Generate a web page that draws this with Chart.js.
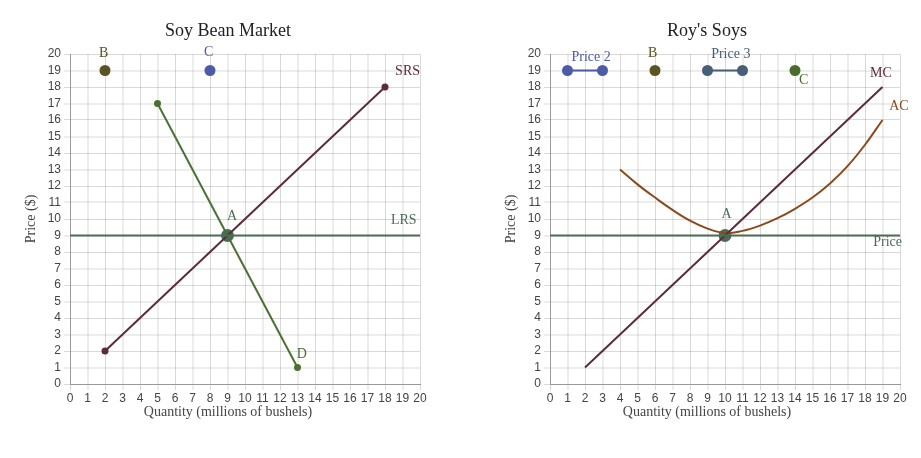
<!DOCTYPE html>
<html>
<head>
<meta charset="utf-8">
<script src="https://cdn.jsdelivr.net/npm/chart.js@4.4.1/dist/chart.umd.min.js"></script>
<style>
  html, body { margin: 0; padding: 0; background: #ffffff; }
  #wrap { position: relative; width: 921px; height: 458px; }
  #leftBox { position: absolute; left: 0; top: 0; width: 460px; height: 458px; }
  #rightBox { position: absolute; left: 460px; top: 0; width: 461px; height: 458px; }
</style>
</head>
<body>
<div id="wrap">
  <div id="leftBox"><canvas id="left" width="460" height="458"></canvas></div>
  <div id="rightBox"><canvas id="right" width="461" height="458"></canvas></div>
</div>
<script>
// ---------------- Data ----------------
const quantityTicks = [0,1,2,3,4,5,6,7,8,9,10,11,12,13,14,15,16,17,18,19,20];
const priceTicks = [0,1,2,3,4,5,6,7,8,9,10,11,12,13,14,15,16,17,18,19,20];

// Soy Bean Market
const srsQ = [2, 18];
const srsP = [2, 18];
const demandQ = [5, 13];
const demandP = [17, 1];
const lrsQ = [0, 20];
const lrsP = [9, 9];
const marketPointNames = ['A', 'B', 'C'];
const marketPointQ = [9, 2, 8];
const marketPointP = [9, 19, 19];

// Roy's Soys
const mcQ = [2, 19];
const mcP = [1, 18];
const acQ = [4, 5, 6, 7, 8, 9, 10, 11, 12, 13, 14, 15, 16, 17, 18, 19];
const acP = [13, 12.1, 11.3, 10.55, 9.9, 9.42, 9.15, 9.28, 9.6, 10.05, 10.62, 11.3, 12.15, 13.2, 14.5, 16];
const priceLineQ = [0, 20];
const priceLineP = [9, 9];
const price2Q = [1, 3];
const price2P = [19, 19];
const price3Q = [9, 11];
const price3P = [19, 19];
const firmPointNames = ['A', 'B', 'C'];
const firmPointQ = [10, 6, 14];
const firmPointP = [9, 19, 19];

// ---------------- Helpers ----------------
function pts(xs, ys) { return xs.map((x, i) => ({ x: x, y: ys[i] })); }

const SERIF = '"Liberation Serif", "Times New Roman", serif';
const SANS = '"Liberation Sans", Arial, sans-serif';

const textPlugin = {
  id: 'texts',
  afterDatasetsDraw(chart, args, opts) {
    const ctx = chart.ctx;
    const xs = chart.scales.x, ys = chart.scales.y;
    const area = chart.chartArea;
    ctx.save();
    ctx.textAlign = 'center';
    ctx.textBaseline = 'middle';
    ctx.fillStyle = '#222222';
    ctx.font = '18px ' + SERIF;
    ctx.fillText(opts.title, opts.titleX, 31);
    ctx.fillStyle = '#444444';
    ctx.font = '14px ' + SERIF;
    ctx.fillText(opts.xTitle, opts.titleX, 412);
    ctx.save();
    ctx.translate(area.left - 39, (area.top + area.bottom) / 2);
    ctx.rotate(-Math.PI / 2);
    ctx.fillText(opts.yTitle, 0, 0);
    ctx.restore();
    ctx.font = '14px ' + SERIF;
    for (const t of opts.labels) {
      ctx.fillStyle = t.color;
      ctx.fillText(t.text, xs.getPixelForValue(t.q), ys.getPixelForValue(t.p));
    }
    ctx.restore();
  }
};

function gridColor(c) {
  return (c.tick && c.tick.value % 2) ? 'rgba(0,0,0,0.07)' : 'rgba(0,0,0,0.15)';
}
function gridWidth(c) {
  return (c.tick && c.tick.value % 2) ? 2 : 1;
}

function makeScales(yWidth) {
  return {
    x: {
      type: 'linear', min: 0, max: 20,
      afterBuildTicks: s => { s.ticks = quantityTicks.map(v => ({ value: v })); },
      afterFit: s => { s.height = 74; },
      grid: { color: gridColor, lineWidth: gridWidth, tickLength: 6 },
      border: { color: '#999999', width: 1 },
      ticks: { color: '#444444', font: { family: SANS, size: 12 }, padding: 1, maxRotation: 0, autoSkip: false }
    },
    y: {
      type: 'linear', min: 0, max: 20,
      afterBuildTicks: s => { s.ticks = priceTicks.map(v => ({ value: v })); },
      afterFit: s => { s.width = yWidth; },
      grid: { color: gridColor, lineWidth: gridWidth, tickLength: 6 },
      border: { color: '#999999', width: 1 },
      ticks: { color: '#444444', font: { family: SANS, size: 12 }, padding: 3, autoSkip: false }
    }
  };
}

function lineDs(data, color, radius, extra) {
  return Object.assign({
    data: data, showLine: true, borderColor: color, backgroundColor: color,
    borderWidth: 2, pointRadius: radius, pointHoverRadius: radius,
    pointBackgroundColor: color, pointBorderWidth: 0, tension: 0
  }, extra || {});
}

const commonOpts = {
  responsive: false,
  animation: false,
  events: [],
  plugins: { legend: { display: false }, tooltip: { enabled: false }, title: { display: false } }
};

// ---------------- Left chart ----------------
const marketColors = ['#4a6b55', '#5a5322', '#4b5ba6'];
new Chart(document.getElementById('left'), {
  type: 'scatter',
  data: {
    datasets: [
      lineDs(pts(lrsQ, lrsP), '#4b6e57', 0),
      lineDs(pts(srsQ, srsP), '#5b2b3b', 3.5),
      lineDs(pts(demandQ, demandP), '#4c7033', 3.5),
      {
        data: pts(marketPointQ, marketPointP), showLine: false,
        pointRadius: [6.5, 5.5, 5.5], pointHoverRadius: [6.5, 5.5, 5.5],
        pointBackgroundColor: marketColors, pointBorderColor: marketColors, pointBorderWidth: 0
      }
    ]
  },
  options: Object.assign({}, commonOpts, {
    layout: { padding: { top: 54, right: 40, bottom: 0, left: 0 } },
    scales: makeScales(70),
    plugins: Object.assign({}, commonOpts.plugins, {
      texts: {
        title: 'Soy Bean Market', titleX: 228,
        xTitle: 'Quantity (millions of bushels)', yTitle: 'Price ($)',
        labels: [
          { text: 'B', q: 1.92, p: 20.05, color: '#5a5322' },
          { text: 'C', q: 7.92, p: 20.1, color: '#4b5ba6' },
          { text: 'SRS', q: 19.29, p: 18.95, color: '#5b2b3b' },
          { text: 'LRS', q: 19.07, p: 9.9, color: '#4b6e57' },
          { text: 'A', q: 9.26, p: 10.15, color: '#4a6b55' },
          { text: 'D', q: 13.24, p: 1.78, color: '#4c7033' }
        ]
      }
    })
  }),
  plugins: [textPlugin]
});

// ---------------- Right chart ----------------
const firmColors = ['#4a6b55', '#5a5322', '#4a6b2e'];
new Chart(document.getElementById('right'), {
  type: 'scatter',
  data: {
    datasets: [
      lineDs(pts(priceLineQ, priceLineP), '#4b6e57', 0),
      lineDs(pts(mcQ, mcP), '#5b2b3b', 0),
      lineDs(pts(acQ, acP), '#8b4a1c', 0, { tension: 0.4 }),
      lineDs(pts(price2Q, price2P), '#4b5ba6', 5.5),
      lineDs(pts(price3Q, price3P), '#465e78', 5.5),
      {
        data: pts(firmPointQ, firmPointP), showLine: false,
        pointRadius: [6.5, 5.5, 5.5], pointHoverRadius: [6.5, 5.5, 5.5],
        pointBackgroundColor: firmColors, pointBorderColor: firmColors, pointBorderWidth: 0
      }
    ]
  },
  options: Object.assign({}, commonOpts, {
    layout: { padding: { top: 54, right: 21, bottom: 0, left: 0 } },
    scales: makeScales(90),
    plugins: Object.assign({}, commonOpts.plugins, {
      texts: {
        title: "Roy's Soys", titleX: 247,
        xTitle: 'Quantity (millions of bushels)', yTitle: 'Price ($)',
        labels: [
          { text: 'Price 2', q: 2.35, p: 19.8, color: '#4b5ba6' },
          { text: 'B', q: 5.86, p: 20.05, color: '#5a5322' },
          { text: 'Price 3', q: 10.33, p: 19.98, color: '#465e78' },
          { text: 'C', q: 14.49, p: 18.38, color: '#4a6b2e' },
          { text: 'MC', q: 18.91, p: 18.84, color: '#5b2b3b' },
          { text: 'AC', q: 19.94, p: 16.84, color: '#8b4a1c' },
          { text: 'Price', q: 19.29, p: 8.57, color: '#4b6e57' },
          { text: 'A', q: 10.09, p: 10.26, color: '#4a6b55' }
        ]
      }
    })
  }),
  plugins: [textPlugin]
});
</script>
</body>
</html>
